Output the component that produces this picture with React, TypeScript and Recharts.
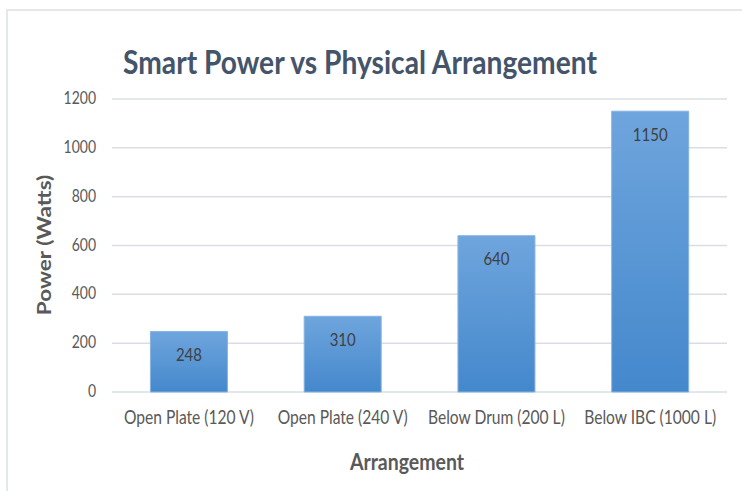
import React from 'react';
import { BarChart, Bar, XAxis, YAxis, CartesianGrid, LabelList } from 'recharts';

const categories = ['Open Plate (120 V)', 'Open Plate (240 V)', 'Below Drum (200 L)', 'Below IBC (1000 L)'];
const powerWatts = [248, 310, 640, 1150];
const yTicks = [0, 200, 400, 600, 800, 1000, 1200];

const chartTitle = 'Smart Power vs Physical Arrangement';
const xTitle = 'Arrangement';
const yTitle = 'Power (Watts)';

const data = categories.map((name, i) => ({ name, value: powerWatts[i] }));

const FONT = 'Lato, "Open Sans", sans-serif';
const SY = 1.2;

function XTick(props: any) {
  const { x, y, payload } = props;
  return (
    <g transform={`translate(${x},${y + 32}) scale(1,${SY})`}>
      <text x={0} y={0} textAnchor="middle" fill="#595959" fontSize={15.6} fontFamily={FONT}>
        {payload.value}
      </text>
    </g>
  );
}

function YTick(props: any) {
  const { x, y, payload } = props;
  return (
    <g transform={`translate(${x},${y + 5}) scale(1,${SY})`}>
      <text x={0} y={0} textAnchor="end" fill="#595959" fontSize={14} fontFamily={FONT}>
        {payload.value}
      </text>
    </g>
  );
}

function BarLabel(props: any) {
  const { x, y, width, value } = props;
  return (
    <g transform={`translate(${Number(x) + Number(width) / 2},${Number(y) + 29.5}) scale(1,${SY})`}>
      <text x={0} y={0} textAnchor="middle" fill="#404040" fontSize={15} fontFamily={FONT}>
        {value}
      </text>
    </g>
  );
}

export default function App() {
  return (
    <div style={{ position: 'absolute', left: 0, top: 0, width: 742, height: 491, background: '#fff', overflow: 'hidden', fontFamily: FONT }}>
      <div style={{ position: 'absolute', left: 6, top: 9, width: 740, height: 490, borderTop: '2px solid #E4E7EB', borderLeft: '2px solid #E4E7EB' }} />
      <BarChart
        width={742}
        height={491}
        data={data}
        margin={{ top: 99, right: 15, left: 0, bottom: 0 }}
        barCategoryGap="25%"
        style={{ position: 'absolute', left: 0, top: 0 }}
      >
        <defs>
          <linearGradient id="barGrad" x1="0" y1="0" x2="0" y2="1">
            <stop offset="0%" stopColor="#6FA5DD" />
            <stop offset="100%" stopColor="#4488CC" />
          </linearGradient>
        </defs>
        <CartesianGrid vertical={false} stroke="#DADEE4" strokeWidth={1.5} />
        <XAxis
          dataKey="name"
          axisLine={false}
          tickLine={false}
          tickSize={0}
          tickMargin={0}
          height={99}
          interval={0}
          tick={<XTick />}
        />
        <YAxis
          domain={[0, 1200]}
          ticks={yTicks}
          axisLine={false}
          tickLine={false}
          tickSize={0}
          tickMargin={16}
          width={112}
          tick={<YTick />}
        />
        <Bar dataKey="value" fill="url(#barGrad)" stroke="#86B3E3" strokeWidth={1} isAnimationActive={false}>
          <LabelList dataKey="value" content={<BarLabel />} />
        </Bar>
      </BarChart>
      <svg width={742} height={491} style={{ position: 'absolute', left: 0, top: 0, pointerEvents: 'none' }}>
        <g transform={`translate(360,74) scale(1,1.12)`}>
          <text x={0} y={0} textAnchor="middle" fill="#44546A" fontSize={28.2} fontWeight="bold" fontFamily={FONT}>
            {chartTitle}
          </text>
        </g>
        <g transform={`translate(407,470) scale(1,1.15)`}>
          <text x={0} y={0} textAnchor="middle" fill="#595959" fontSize={19.5} fontWeight="bold" fontFamily={FONT}>
            {xTitle}
          </text>
        </g>
        <g transform={`translate(51,245) rotate(-90) scale(1.25,1)`}>
          <text x={0} y={0} textAnchor="middle" fill="#595959" fontSize={18} fontWeight="bold" fontFamily={FONT}>
            {yTitle}
          </text>
        </g>
      </svg>
    </div>
  );
}
